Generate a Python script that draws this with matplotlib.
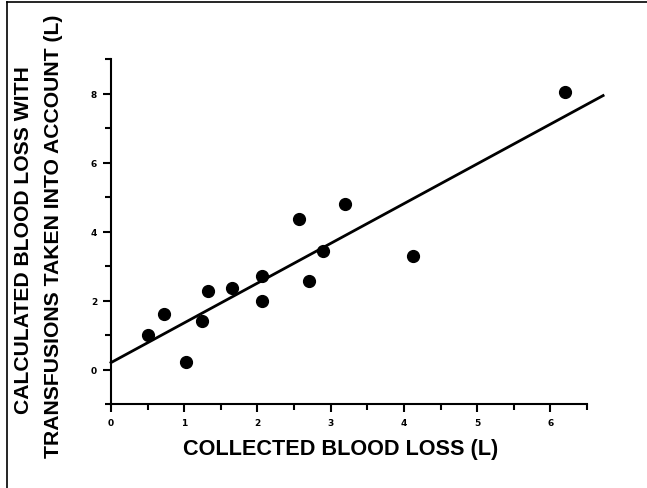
import matplotlib
matplotlib.use("Agg")
import matplotlib.pyplot as plt
from matplotlib.lines import Line2D
from matplotlib.ticker import MultipleLocator

# collected vs calculated blood loss (L)
collected = [0.5, 0.72, 1.03, 1.24, 1.33, 1.65, 2.06, 2.06, 2.57, 2.7, 2.9, 3.2, 4.12, 6.2]
calculated = [1.0, 1.62, 0.21, 1.4, 2.28, 2.35, 2.0, 2.72, 4.35, 2.57, 3.43, 4.79, 3.28, 8.03]
fit_x = [0.0, 6.72]
fit_y = [0.2, 7.94]
xticks = [0, 1, 2, 3, 4, 5, 6]
yticks = [0, 2, 4, 6, 8]

fig = plt.figure(figsize=(6.47, 4.89), dpi=100)
ax = fig.add_axes([111/647, (489-405)/489, (587-111)/647, (405-60)/489])

ax.plot(collected, calculated, 'o', color='black', markersize=8.5, zorder=3)
ax.plot(fit_x, fit_y, '-', color='black', linewidth=2, clip_on=False)

ax.set_xlim(0, 6.5)
ax.set_ylim(-1, 9)
ax.set_xticks(xticks)
ax.set_yticks(yticks)
ax.xaxis.set_minor_locator(MultipleLocator(0.5))
ax.yaxis.set_minor_locator(MultipleLocator(1))
ax.tick_params(which='major', length=6, width=1.5, direction='out', pad=4,
               labelsize=6.5)
ax.tick_params(which='minor', length=4, width=1.5, direction='out')
for lab in ax.get_xticklabels() + ax.get_yticklabels():
    lab.set_fontweight('bold')

for s in ['top', 'right']:
    ax.spines[s].set_visible(False)
for s in ['left', 'bottom']:
    ax.spines[s].set_linewidth(1.5)

fig.text(341/647, 1 - 450/489, 'COLLECTED BLOOD LOSS (L)', ha='center', va='center',
         fontsize=15.6, fontweight='bold', family='Liberation Sans')
fig.text(24/647, 1 - 240/489, 'CALCULATED BLOOD LOSS WITH', rotation=90,
         ha='center', va='center', fontsize=15.2, fontweight='bold',
         family='Liberation Sans')
fig.text(54/647, 1 - 236/489, 'TRANSFUSIONS TAKEN INTO ACCOUNT (L)', rotation=90,
         ha='center', va='center', fontsize=15.2, fontweight='bold',
         family='Liberation Sans')

# outer frame: top and left edges only
fig.add_artist(Line2D([7/647, 1], [1 - 3/489, 1 - 3/489], color='black',
                      linewidth=1.2, transform=fig.transFigure))
fig.add_artist(Line2D([7/647, 7/647], [0, 1 - 3/489], color='black',
                      linewidth=1.2, transform=fig.transFigure))

fig.savefig('out.png', dpi=100)
